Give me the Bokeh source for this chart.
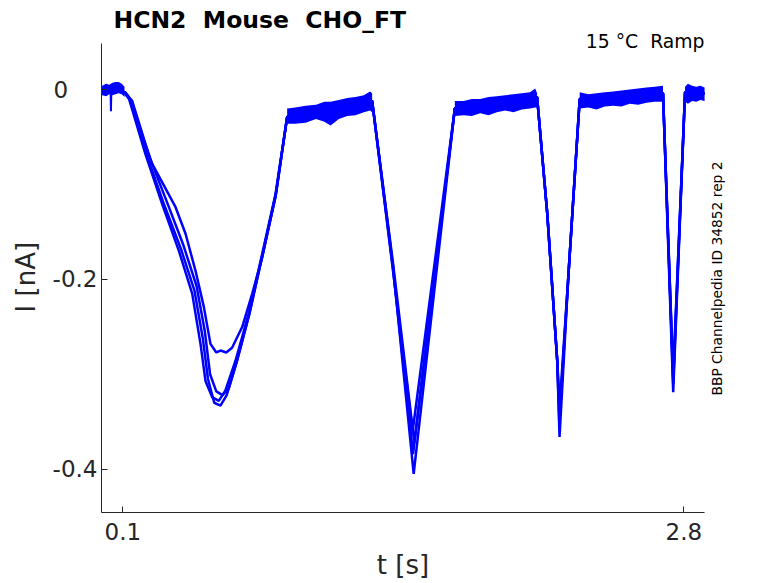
import math
from bokeh.plotting import figure
from bokeh.models import Range1d, FixedTicker, Label
from bokeh.embed import file_html
from bokeh.resources import INLINE

# ---------------- data (t in s, I in nA) ----------------
tA = [0.000, 0.105, 0.130, 0.209, 0.290, 0.370, 0.434, 0.474, 0.498, 0.530, 0.562, 0.594, 0.642, 0.706, 0.771, 0.835, 0.891,
      1.300, 1.400, 1.500, 1.698, 2.094, 2.143, 2.191, 2.202, 2.246, 2.299, 2.700, 2.749, 2.806, 2.900]
iA = [0.000, -0.003, -0.010, -0.068, -0.121, -0.170, -0.215, -0.268, -0.307, -0.324, -0.328, -0.317, -0.286, -0.236, -0.173, -0.110, -0.029,
      -0.012, -0.185, -0.405, -0.020, -0.008, -0.131, -0.286, -0.366, -0.191, -0.010, -0.004, -0.319, -0.003, -0.004]

tB = [0.000, 0.108, 0.140, 0.220, 0.300, 0.380, 0.445, 0.485, 0.510, 0.540, 0.570, 0.600, 0.645, 0.708, 0.772, 0.836, 0.891,
      1.300, 1.400, 1.497, 1.698, 2.094, 2.143, 2.191, 2.201, 2.246, 2.299, 2.700, 2.749, 2.806, 2.900]
iB = [0.000, -0.003, -0.012, -0.072, -0.122, -0.168, -0.212, -0.262, -0.305, -0.330, -0.333, -0.322, -0.289, -0.237, -0.174, -0.111, -0.029,
      -0.012, -0.188, -0.384, -0.020, -0.008, -0.131, -0.286, -0.352, -0.191, -0.010, -0.004, -0.310, -0.003, -0.004]

tC = [0.000, 0.110, 0.145, 0.230, 0.315, 0.390, 0.455, 0.495, 0.520, 0.550, 0.580, 0.610, 0.650, 0.710, 0.773, 0.837, 0.891,
      1.300, 1.400, 1.503, 1.698, 2.094, 2.143, 2.191, 2.203, 2.246, 2.299, 2.700, 2.749, 2.806, 2.900]
iC = [0.000, -0.003, -0.012, -0.072, -0.120, -0.163, -0.207, -0.255, -0.300, -0.318, -0.322, -0.315, -0.286, -0.236, -0.174, -0.111, -0.029,
      -0.012, -0.182, -0.372, -0.020, -0.008, -0.131, -0.286, -0.342, -0.191, -0.010, -0.004, -0.305, -0.003, -0.004]

tD = [0.000, 0.112, 0.129, 0.241, 0.354, 0.402, 0.450, 0.490, 0.522, 0.550, 0.570, 0.598, 0.626, 0.675, 0.723, 0.771, 0.835, 0.891,
      1.300, 1.400, 1.495, 1.698, 2.094, 2.143, 2.191, 2.202, 2.246, 2.299, 2.700, 2.749, 2.806, 2.900]
iD = [0.000, -0.003, -0.008, -0.078, -0.124, -0.152, -0.191, -0.229, -0.268, -0.277, -0.275, -0.277, -0.272, -0.250, -0.215, -0.177, -0.112, -0.029,
      -0.012, -0.190, -0.360, -0.020, -0.008, -0.131, -0.286, -0.335, -0.191, -0.010, -0.004, -0.300, -0.003, -0.004]

# short artefact near the start
glitch_t = [0.041, 0.043, 0.045]
glitch_i = [0.000, -0.023, 0.000]

# noise envelopes of the flat (holding) segments
flat0_t = [0.000, 0.020, 0.035, 0.050, 0.065, 0.080, 0.095, 0.108]
flat0_hi = [0.004, 0.006, 0.005, 0.007, 0.008, 0.008, 0.006, 0.003]
flat0_lo = [-0.006, -0.007, -0.005, -0.006, -0.005, -0.004, -0.005, -0.008]

flat1_t = [0.891, 0.930, 0.980, 1.030, 1.070, 1.100, 1.140, 1.180, 1.220, 1.260, 1.290, 1.300]
flat1_hi = [-0.020, -0.019, -0.017, -0.016, -0.013, -0.013, -0.011, -0.009, -0.008, -0.006, -0.002, -0.004]
flat1_lo = [-0.036, -0.036, -0.035, -0.031, -0.034, -0.038, -0.031, -0.028, -0.027, -0.024, -0.022, -0.024]

flat2_t = [1.698, 1.740, 1.780, 1.820, 1.860, 1.900, 1.940, 1.980, 2.020, 2.060, 2.085, 2.094]
flat2_hi = [-0.012, -0.012, -0.010, -0.010, -0.008, -0.007, -0.006, -0.005, -0.004, -0.003, 0.001, -0.004]
flat2_lo = [-0.028, -0.027, -0.028, -0.025, -0.027, -0.024, -0.022, -0.024, -0.021, -0.020, -0.019, -0.019]

flat3_t = [2.299, 2.340, 2.380, 2.420, 2.460, 2.500, 2.540, 2.580, 2.620, 2.660, 2.700]
flat3_hi = [-0.003, -0.005, -0.004, -0.003, -0.002, -0.001, 0.000, 0.001, 0.002, 0.003, 0.004]
flat3_lo = [-0.020, -0.019, -0.021, -0.018, -0.017, -0.018, -0.015, -0.016, -0.014, -0.013, -0.013]

flat4_t = [2.806, 2.820, 2.840, 2.860, 2.880, 2.900]
flat4_hi = [0.003, 0.006, 0.004, 0.003, 0.004, 0.002]
flat4_lo = [-0.013, -0.015, -0.012, -0.013, -0.011, -0.012]

NB = "\u00a0"
x_ticks = [0.1, 2.8]
x_tick_labels = ["0.1", "2.8"]
y_ticks = [-0.4, -0.2, 0.0]
y_tick_labels = ["-0.4", "-0.2", "0" + NB * 4]

# axis extents (data units) of the drawn axes
x_axis_bounds = (-0.0025, 2.901)
y_axis_bounds = (-0.4456, 0.0485)

title_text = "HCN2" + NB + " Mouse" + NB + " CHO_FT"
cond_text = "15 °C" + NB + " Ramp"
id_text = "BBP Channelpedia ID 34852 rep 2"
# trailing no-break spaces centre the axis titles on the drawn axis lines
x_label = "t [s]" + NB * 8
y_label = "I [nA]" + NB * 5

# ---------------- figure ----------------
FONT = "DejaVu Sans"
AX = "#262626"
BLUE = "#0000ff"

p = figure(frame_width=669, frame_height=512,
           min_border_left=101, min_border_right=0, min_border_top=0, min_border_bottom=71,
           x_range=Range1d(-0.0025, 3.2173), y_range=Range1d(-0.44562, 0.09376),
           output_backend="svg", toolbar_location=None, title=None)
p.outline_line_color = None
p.xgrid.visible = False
p.ygrid.visible = False
p.background_fill_color = "white"
p.border_fill_color = "white"

for ax in (p.xaxis[0], p.yaxis[0]):
    ax.axis_line_color = AX
    ax.axis_line_width = 1
    ax.major_tick_line_color = AX
    ax.major_tick_in = 6
    ax.major_tick_out = 0
    ax.minor_tick_line_color = None
    ax.major_label_text_font = FONT
    ax.major_label_text_font_size = "23px"
    ax.major_label_text_color = AX
    ax.axis_label_text_font = FONT
    ax.axis_label_text_font_size = "26px"
    ax.axis_label_text_font_style = "normal"
    ax.axis_label_text_color = AX

xa = p.xaxis[0]
xa.ticker = FixedTicker(ticks=x_ticks)
xa.major_label_overrides = {t: s for t, s in zip(x_ticks, x_tick_labels)}
xa.major_label_standoff = 10
xa.bounds = x_axis_bounds
xa.axis_label = x_label
xa.axis_label_standoff = 7

ya = p.yaxis[0]
ya.ticker = FixedTicker(ticks=y_ticks)
ya.major_label_overrides = {t: s for t, s in zip(y_ticks, y_tick_labels)}
ya.major_label_standoff = 4
ya.bounds = y_axis_bounds
ya.axis_label = y_label
ya.axis_label_standoff = 9

# noise bands
for ft, fh, fl in ((flat0_t, flat0_hi, flat0_lo), (flat1_t, flat1_hi, flat1_lo),
                   (flat2_t, flat2_hi, flat2_lo), (flat3_t, flat3_hi, flat3_lo),
                   (flat4_t, flat4_hi, flat4_lo)):
    p.varea(x=ft, y1=fl, y2=fh, fill_color=BLUE, fill_alpha=1.0)

# traces
for tt, ii in ((tA, iA), (tB, iB), (tC, iC), (tD, iD)):
    p.line(tt, ii, line_color=BLUE, line_width=2.5)
p.line(glitch_t, glitch_i, line_color=BLUE, line_width=2)

# texts (screen units relative to the plot frame, y upwards)
p.add_layout(Label(x=12, y=492.5, x_units="screen", y_units="screen", text=title_text,
                   text_font=FONT, text_font_size="23.5px", text_font_style="bold",
                   text_color="black", text_align="left", text_baseline="alphabetic"))
p.add_layout(Label(x=603, y=471, x_units="screen", y_units="screen", text=cond_text,
                   text_font=FONT, text_font_size="18.8px", text_color="black",
                   text_align="right", text_baseline="alphabetic"))
p.add_layout(Label(x=615, y=234, x_units="screen", y_units="screen", text=id_text,
                   text_font=FONT, text_font_size="13.8px", text_color="black", angle=math.pi / 2,
                   text_align="center", text_baseline="alphabetic"))

open("out.html", "w").write(file_html(p, INLINE))
